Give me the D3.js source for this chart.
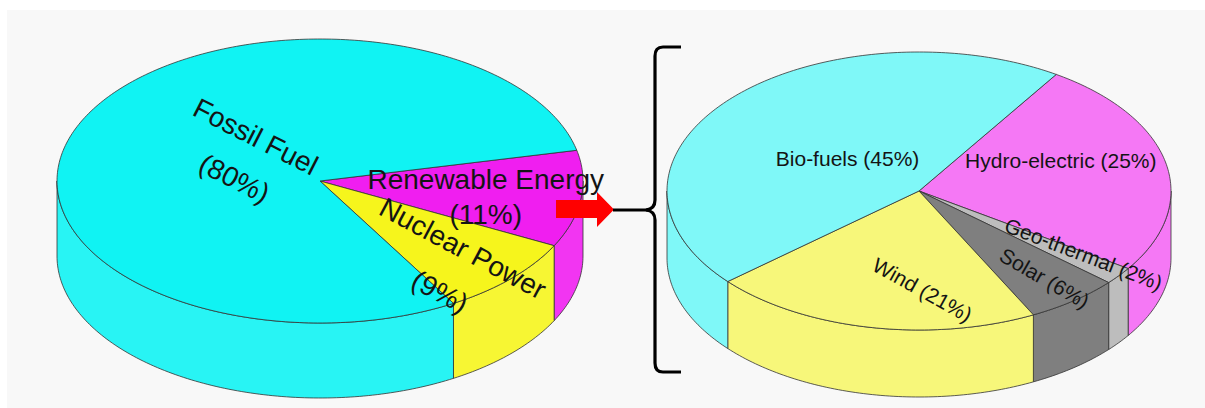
<!DOCTYPE html>
<html>
<head>
<meta charset="utf-8">
<style>
  body { margin: 0; background: #fff; }
  svg { display: block; }
  text { font-family: "Liberation Sans", Arial, sans-serif; fill: #141414; }
</style>
</head>
<body>
<svg id="chart"></svg>
<script src="https://d3js.org/d3.v7.min.js"></script>
<script>
// energy mix (left pie)
var mainLabels = ["Renewable Energy", "Nuclear Power", "Fossil Fuel"]
var mainValues = [11, 9, 80]
// renewable breakdown (right pie)
var subLabels = ["Hydro-electric", "Geo-thermal", "Solar", "Wind", "Bio-fuels"]
var subValues = [25, 2, 6, 21, 45]

var mainColors = ["#f01ef0", "#f6f51c", "#10f3f3"]
var subColors = ["#f578f5", "#bdbdbd", "#7f7f7f", "#f7f77a", "#7ff8f8"]

// label placement: angle shift from slice middle (deg), fraction of radius, rotation, line gap
var mainLabelPos = [
  { shift: 2.7, frac: 0.64, rot: 0, gap: 35 },
  { shift: 8, frac: 0.80, rot: 28, gap: 49 },
  { shift: 7, frac: 0.33, rot: 27, gap: 47 }
]
var subLabelPos = [
  { shift: -10, frac: 0.605, rot: 0 },
  { shift: -2.8, frac: 0.795, rot: 21 },
  { shift: -0.6, frac: 0.80, rot: 30 },
  { shift: -12.3, frac: 0.71, rot: 29 },
  { shift: -1.2, frac: 0.37, rot: 0 }
]

var width = 1205, height = 408

var svg = d3.select('#chart')
  .attr('width', width)
  .attr('height', height)

svg.append('rect')
  .attr('x', 7).attr('y', 10)
  .attr('width', width - 7).attr('height', height - 10)
  .attr('fill', '#f8f8f8')

var line = d3.line().curve(d3.curveLinearClosed)

function drawPie(labels, values, colors, opt) {
  var g = svg.append('g')
  var total = d3.sum(values)
  var start = opt.start * Math.PI / 180
  var arcs = d3.pie().sort(null)
    .startAngle(start).endAngle(start + 2 * Math.PI)(values)

  // ellipse point, t measured clockwise from 3 o'clock
  function pt(t, f, dz) {
    return [opt.cx + f * opt.rx * Math.cos(t), opt.cy + f * opt.ry * Math.sin(t) + (dz || 0)]
  }
  function arcPts(t0, t1, dz) {
    var n = Math.max(2, Math.ceil(Math.abs(t1 - t0) * 180 / Math.PI))
    return d3.range(n + 1).map(function(i) { return pt(t0 + (t1 - t0) * i / n, 1, dz) })
  }

  arcs.forEach(function(a, i) {
    a.t0 = a.startAngle - Math.PI / 2
    a.t1 = a.endAngle - Math.PI / 2
  })

  // side walls (front half only)
  arcs.forEach(function(a, i) {
    [0, 2 * Math.PI].forEach(function(off) {
      var s = Math.max(a.t0, off), e = Math.min(a.t1, off + Math.PI)
      if (e - s <= 0.0001) return
      var top = arcPts(s, e, 0)
      var bot = arcPts(s, e, opt.depth).reverse()
      g.append('path')
        .attr('d', line(top.concat(bot)))
        .attr('fill', opt.side ? opt.side(colors[i]) : colors[i])
        .attr('stroke', '#333')
        .attr('stroke-width', 0.8)
    })
  })

  // top faces
  arcs.forEach(function(a, i) {
    var pts = [[opt.cx, opt.cy]].concat(arcPts(a.t0, a.t1, 0))
    g.append('path')
      .attr('d', line(pts))
      .attr('fill', colors[i])
      .attr('stroke', '#333')
      .attr('stroke-width', 0.8)
      .attr('stroke-linejoin', 'round')
  })

  // labels
  arcs.forEach(function(a, i) {
    var lp = opt.labelPos[i]
    var mid = (a.t0 + a.t1) / 2 + lp.shift * Math.PI / 180
    var p = pt(mid, lp.frac, 0)
    var pct = '(' + Math.round(values[i] / total * 100) + '%)'
    var lines = opt.twoLines ? [labels[i], pct] : [labels[i] + ' ' + pct]
    var gap = lp.gap || 0
    var lg = g.append('g')
      .attr('transform', 'translate(' + p[0] + ',' + p[1] + ') rotate(' + lp.rot + ')')
    lines.forEach(function(txt, j) {
      lg.append('text')
        .attr('text-anchor', 'middle')
        .attr('y', (j - (lines.length - 1) / 2) * gap)
        .attr('dy', '0.36em')
        .style('font-size', opt.fontSize + 'px')
        .text(txt)
    })
  })
}

drawPie(mainLabels, mainValues, mainColors, {
  cx: 320, cy: 181, rx: 263, ry: 142, depth: 75, start: 77.5,
  labelPos: mainLabelPos, twoLines: true, fontSize: 28,
  side: function(c) { return d3.interpolateRgb(c, '#fff')(0.1) }
})

drawPie(subLabels, subValues, subColors, {
  cx: 919, cy: 191, rx: 252, ry: 139, depth: 67, start: 33,
  labelPos: subLabelPos, twoLines: false, fontSize: 21
})

// red arrow
svg.append('path')
  .attr('d', 'M556,200 L597,200 L597,192 L614,209.5 L597,227 L597,218 L556,218 Z')
  .attr('fill', '#ff0000')

// connector and bracket
svg.append('path')
  .attr('d', 'M613,210 L648,210')
  .attr('stroke', '#000').attr('stroke-width', 3).attr('fill', 'none')

svg.append('path')
  .attr('d', 'M681,47 L663,47 Q655,47 655,56 L655,200 Q655,209 646,210 Q655,211 655,220 L655,363 Q655,372 663,372 L681,372')
  .attr('stroke', '#000').attr('stroke-width', 3.2).attr('fill', 'none')
</script>
</body>
</html>
